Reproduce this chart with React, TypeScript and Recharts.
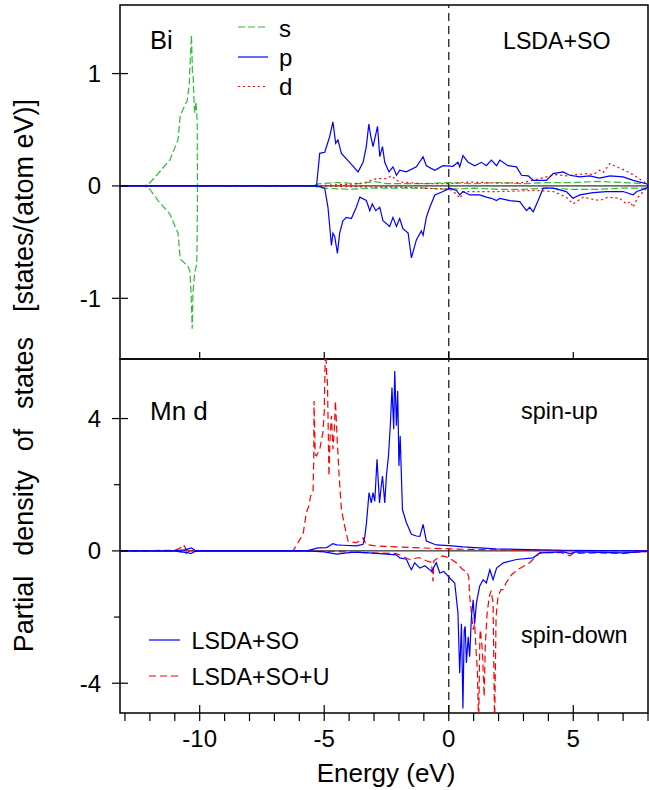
import React from 'react';
import { LineChart, Line, XAxis, YAxis, ReferenceLine, ReferenceArea } from 'recharts';

type Pt = [number, number];

// ---------- axes ----------
const X_DOMAIN: [number, number] = [-13.2, 8];
const TOP_Y_DOMAIN: [number, number] = [-1.54, 1.61];
const BOT_Y_DOMAIN: [number, number] = [-4.9, 5.8];
const X_MAJOR_TICKS = [-10, -5, 0, 5];
const X_ALL_TICKS = [-13, -12, -11, -10, -9, -8, -7, -6, -5, -4, -3, -2, -1, 0, 1, 2, 3, 4, 5, 6, 7, 8];
const TOP_Y_TICKS = [-1, 0, 1];
const BOT_Y_TICKS = [-4, -2, 0, 2, 4];

// ---------- texts ----------
const TOP_TITLE = 'Bi';
const TOP_METHOD = 'LSDA+SO';
const TOP_LEGEND = ['s', 'p', 'd'];
const BOT_TITLE = 'Mn d';
const SPIN_UP = 'spin-up';
const SPIN_DOWN = 'spin-down';
const BOT_LEGEND = ['LSDA+SO', 'LSDA+SO+U'];
const X_LABEL = 'Energy (eV)';
const Y_LABEL_WORDS = ['Partial', 'density', 'of', 'states'];
const Y_LABEL_UNIT = '[states/(atom eV)]';

// ---------- Bi panel (LSDA+SO) ----------
const biSUp: Pt[] = [
  [-13.2, 0], [-12.3, 0], [-12.07, 0.01], [-11.67, 0.11], [-11.2, 0.23], [-10.87, 0.41], [-10.78, 0.63],
  [-10.5, 0.76], [-10.42, 0.9], [-10.38, 1.12], [-10.33, 1.34], [-10.29, 1.0], [-10.26, 0.97], [-10.22, 0.7],
  [-10.19, 0.65], [-10.15, 0.75], [-10.1, 0.57], [-10.09, 0], [-5.5, 0], [-5.2, 0.02], [-4.5, 0.03], [-3.5, 0.02],
  [-3.0, 0.04], [-2.5, 0.02], [-1.0, 0.02], [0, 0.03], [1, 0.02], [2, 0.03], [3, 0.02], [4, 0.03], [5, 0.03],
  [6, 0.04], [7, 0.03], [8, 0.02],
];
const biSDown: Pt[] = [
  [-13.2, 0], [-12.3, 0], [-12.07, -0.01], [-11.67, -0.13], [-11.2, -0.25], [-10.87, -0.42], [-10.78, -0.65],
  [-10.5, -0.71], [-10.4, -0.75], [-10.35, -0.93], [-10.3, -1.27], [-10.27, -0.95], [-10.2, -0.77],
  [-10.12, -0.7], [-10.1, -0.45], [-10.09, 0], [-5.5, 0], [-5.0, -0.02], [-4.0, -0.03], [-3.0, -0.02],
  [-1.0, -0.02], [0, -0.03], [1, -0.02], [2, -0.03], [3, -0.03], [4, -0.02], [5, -0.03], [6, -0.03],
  [7, -0.02], [8, -0.02],
];
const biPUp: Pt[] = [
  [-13.2, 0], [-5.31, 0], [-5.18, 0.29], [-4.98, 0.3], [-4.78, 0.44], [-4.65, 0.57], [-4.54, 0.38],
  [-4.45, 0.41], [-4.31, 0.29], [-3.98, 0.21], [-3.64, 0.125], [-3.44, 0.21], [-3.31, 0.35], [-3.21, 0.55],
  [-3.13, 0.44], [-3.04, 0.35], [-2.86, 0.53], [-2.77, 0.26], [-2.66, 0.35], [-2.57, 0.21], [-2.4, 0.125],
  [-2.24, 0.17], [-2.1, 0.095], [-1.97, 0.14], [-1.7, 0.125], [-1.3, 0.17], [-1.03, 0.26], [-0.9, 0.18],
  [-0.56, 0.14], [-0.23, 0.18], [0.17, 0.175], [0.37, 0.21], [0.44, 0.17], [0.57, 0.27], [0.78, 0.21],
  [1.04, 0.18], [1.31, 0.21], [1.51, 0.18], [1.71, 0.23], [1.92, 0.18], [2.05, 0.23], [2.38, 0.18],
  [2.72, 0.17], [2.92, 0.095], [3.19, 0.09], [3.39, 0.05], [3.92, 0.05], [4.19, 0.11], [4.59, 0.125],
  [4.86, 0.095], [5.26, 0.08], [5.66, 0.09], [6.06, 0.07], [6.47, 0.09], [7.0, 0.08], [7.4, 0.05],
  [7.94, 0.02], [8, 0.01],
];
const biPDown: Pt[] = [
  [-13.2, 0], [-5.31, 0], [-4.98, -0.02], [-4.85, -0.19], [-4.71, -0.53], [-4.65, -0.42], [-4.58, -0.45],
  [-4.47, -0.6], [-4.38, -0.42], [-4.25, -0.31], [-4.11, -0.28], [-3.91, -0.29], [-3.71, -0.19],
  [-3.57, -0.1], [-3.31, -0.13], [-3.17, -0.22], [-3.07, -0.16], [-2.93, -0.22], [-2.77, -0.19],
  [-2.64, -0.31], [-2.37, -0.36], [-2.24, -0.28], [-2.1, -0.36], [-1.97, -0.29], [-1.84, -0.38],
  [-1.63, -0.42], [-1.5, -0.64], [-1.3, -0.48], [-1.1, -0.4], [-1.03, -0.44], [-0.9, -0.28], [-0.76, -0.19],
  [-0.56, -0.08], [-0.23, -0.05], [0.04, -0.02], [0.31, -0.04], [0.44, -0.08], [0.57, -0.05], [0.84, -0.08],
  [1.24, -0.08], [1.51, -0.1], [1.71, -0.11], [1.92, -0.13], [2.05, -0.11], [2.45, -0.13], [2.85, -0.14],
  [3.12, -0.22], [3.25, -0.19], [3.39, -0.23], [3.59, -0.13], [3.79, -0.02], [4.19, -0.02], [4.72, -0.05],
  [4.99, -0.11], [5.26, -0.08], [5.8, -0.06], [6.33, -0.05], [7.0, -0.05], [7.4, -0.08], [7.55, -0.05],
  [7.94, -0.02], [8, -0.01],
];
const biDUp: Pt[] = [
  [-13.2, 0], [-5.3, 0], [-4.5, 0.01], [-3.6, 0.02], [-3.31, 0.035], [-2.9, 0.065], [-2.5, 0.065],
  [-2.3, 0.09], [-2.15, 0.06], [-1.97, 0.035], [-1.0, 0.02], [0, 0.02], [0.8, 0.035], [2, 0.025], [3, 0.03],
  [3.92, 0.08], [4.3, 0.1], [4.72, 0.09], [5.1, 0.1], [5.53, 0.11], [5.8, 0.1], [6.06, 0.14], [6.2, 0.12],
  [6.47, 0.2], [6.73, 0.17], [7.07, 0.14], [7.4, 0.1], [7.94, 0.02], [8, 0.01],
];
const biDDown: Pt[] = [
  [-13.2, 0], [-5.3, 0], [-3, -0.01], [-1.97, -0.01], [0.04, -0.03], [0.3, -0.07], [0.44, -0.11],
  [0.6, -0.05], [2, -0.05], [3.5, -0.04], [4.2, -0.05], [4.72, -0.1], [4.99, -0.16], [5.4, -0.1],
  [5.8, -0.12], [6.06, -0.13], [6.4, -0.1], [6.87, -0.11], [7.13, -0.16], [7.3, -0.14], [7.4, -0.19],
  [7.6, -0.1], [7.94, -0.02], [8, -0.01],
];

// ---------- Mn d panel ----------
const mnSoUp: Pt[] = [
  [-13.2, 0], [-11, 0.01], [-10.6, 0.03], [-10.33, 0.09], [-10.2, 0.02], [-10, 0], [-5.7, 0], [-5.25, 0.09],
  [-4.9, 0.1], [-4.65, 0.22], [-4.5, 0.18], [-4.25, 0.17], [-3.71, 0.15], [-3.44, 0.2], [-3.37, 0.44],
  [-3.31, 0.8], [-3.2, 1.76], [-3.11, 1.45], [-3.04, 1.76], [-2.97, 1.5], [-2.88, 2.77], [-2.78, 1.45],
  [-2.72, 1.9], [-2.66, 2.26], [-2.57, 1.45], [-2.5, 2.3], [-2.42, 2.87], [-2.34, 3.88], [-2.28, 4.94],
  [-2.21, 3.68], [-2.17, 5.44], [-2.1, 3.78], [-2.05, 4.84], [-2.0, 2.57], [-1.95, 3.47], [-1.86, 1.25],
  [-1.7, 0.85], [-1.5, 0.5], [-1.3, 0.45], [-1.16, 0.44], [-1.03, 0.8], [-0.9, 0.3], [-0.5, 0.18],
  [0, 0.16], [0.57, 0.12], [1.9, 0.06], [3.2, 0.04], [4.6, 0.02], [6, 0.01], [8, 0],
];
const mnSoDown: Pt[] = [
  [-13.2, 0], [-11, -0.01], [-10.5, -0.05], [-10.35, -0.08], [-10.2, -0.02], [-10, 0], [-5.7, 0],
  [-5, -0.03], [-4.5, -0.1], [-4, -0.05], [-3.64, -0.04], [-2.77, -0.08], [-2.1, -0.12], [-1.97, -0.21],
  [-1.7, -0.25], [-1.57, -0.47], [-1.5, -0.57], [-1.37, -0.36], [-1.16, -0.52], [-0.96, -0.45],
  [-0.69, -0.62], [-0.5, -0.36], [-0.36, -0.67], [-0.2, -0.62], [0.04, -0.82], [0.24, -0.97], [0.37, -1.88],
  [0.44, -3.7], [0.51, -2.2], [0.57, -4.76], [0.62, -2.4], [0.66, -2.28], [0.71, -3.39], [0.78, -2.6],
  [0.84, -3.2], [0.91, -2.0], [0.98, -1.48], [1.04, -2.2], [1.11, -1.58], [1.24, -1.07], [1.38, -0.87],
  [1.51, -0.97], [1.65, -0.57], [1.78, -0.87], [1.92, -0.52], [2.19, -0.36], [2.72, -0.26], [3.39, -0.21],
  [3.66, -0.06], [4.6, -0.03], [4.87, -0.08], [5.1, -0.03], [7.0, -0.06], [7.7, -0.03], [8, -0.01],
];
const mnSoUUp: Pt[] = [
  [-13.2, 0], [-11, 0.02], [-10.8, 0.08], [-10.65, 0.19], [-10.55, 0.05], [-10.4, 0], [-6.25, 0],
  [-5.98, 0.34], [-5.85, 0.5], [-5.72, 1.15], [-5.6, 1.4], [-5.55, 1.66], [-5.45, 1.76], [-5.42, 2.8],
  [-5.41, 4.53], [-5.36, 2.9], [-5.31, 2.87], [-5.18, 3.07], [-5.1, 3.4], [-5.05, 3.58], [-5.0, 4.2],
  [-4.95, 6.3], [-4.9, 5.3], [-4.87, 5.09], [-4.81, 2.26], [-4.76, 3.5], [-4.71, 4.08], [-4.65, 3.07],
  [-4.6, 3.6], [-4.55, 4.53], [-4.48, 3.37], [-4.4, 2.26], [-4.31, 1.25], [-4.18, 0.75], [-4.04, 0.29],
  [-3.71, 0.24], [-3.44, 0.39], [-3.31, 0.19], [-2.9, 0.15], [-2.1, 0.12], [-0.76, 0.08], [0.57, 0.05],
  [2, 0.03], [3.2, 0.02], [5, 0.01], [8, 0.01],
];
const mnSoUDown: Pt[] = [
  [-13.2, 0], [-11, 0], [-10.7, -0.03], [-10.55, -0.08], [-10.4, 0], [-6.25, 0], [-4.5, -0.02],
  [-3.5, -0.05], [-2.1, -0.08], [-1.57, -0.26], [-1.2, -0.2], [-0.9, -0.3], [-0.7, -0.35], [-0.63, -0.92],
  [-0.6, -0.3], [-0.4, -0.2], [-0.25, -0.15], [-0.1, -0.18], [0.1, -0.25], [0.3, -0.36], [0.57, -0.57],
  [0.71, -0.62], [0.8, -0.77], [0.84, -1.37], [0.91, -1.88], [0.98, -2.38], [1.04, -2.2], [1.11, -3.19],
  [1.15, -3.6], [1.2, -5.3], [1.25, -2.6], [1.27, -2.38], [1.35, -3.0], [1.42, -4.4], [1.47, -2.8],
  [1.54, -1.88], [1.63, -1.37], [1.7, -1.2], [1.78, -1.58], [1.84, -5.3], [1.9, -2.0], [1.98, -1.37],
  [2.1, -1.17], [2.18, -1.17], [2.3, -0.97], [2.52, -0.72], [2.8, -0.55], [3.13, -0.41], [3.25, -0.36],
  [3.65, -0.06], [4.5, -0.05], [4.86, -0.15], [5.0, -0.08], [6, -0.06], [7, -0.08], [7.5, -0.04], [8, -0.02],
];

const toData = (pts: Pt[]) => pts.map(([e, v]) => ({ e, v }));

// ---------- styles ----------
const FONT = '"Liberation Sans", Arial, Helvetica, sans-serif';
const AX = '#000';
const GREEN = '#33bb33';
const BLUE = '#0000ff';
const RED = '#ff0000';
const LW = 1.2;

function TopPanelXTick(props: any) {
  const { x, y } = props;
  return <line x1={x} x2={x} y1={y} y2={y - 7} stroke={AX} strokeWidth={1.2} />;
}
function BotPanelTopTick(props: any) {
  const { x, y } = props;
  return <line x1={x} x2={x} y1={y} y2={y + 8} stroke={AX} strokeWidth={1.2} />;
}
function BotPanelXTick(props: any) {
  const { x, y, payload } = props;
  const major = payload.value % 5 === 0;
  return (
    <g>
      <line x1={x} x2={x} y1={y} y2={y + 8} stroke={AX} strokeWidth={1.2} />
      {major && <line x1={x} x2={x} y1={y} y2={y - 8} stroke={AX} strokeWidth={1.2} />}
      {major && (
        <text x={x} y={y + 34} textAnchor="middle" fontSize={24} fontFamily={FONT} fill="#000">
          {String(payload.value)}
        </text>
      )}
    </g>
  );
}
function makeYTick(majorEvery: number) {
  return function YTick(props: any) {
    const { x, y, payload } = props;
    const major = payload.value % majorEvery === 0;
    if (!major) return <line x1={x - 6} x2={x} y1={y} y2={y} stroke={AX} strokeWidth={1.2} />;
    return (
      <g>
        <line x1={x - 8} x2={x + 8} y1={y} y2={y} stroke={AX} strokeWidth={1.2} />
        <text x={x - 19} y={y + 8.5} textAnchor="end" fontSize={24} fontFamily={FONT} fill="#000">
          {String(payload.value)}
        </text>
      </g>
    );
  };
}
const TopYTick = makeYTick(1);
const BotYTick = makeYTick(4);

export default function App() {
  const W = 649;
  return (
    <div style={{ position: 'absolute', left: 0, top: 0, width: W, height: 790, background: '#fff' }}>
      {/* top panel */}
      <div style={{ position: 'absolute', left: 0, top: 0 }}>
        <LineChart width={W} height={360} margin={{ top: 5, right: 1, bottom: 0, left: 119 }}>
          <XAxis dataKey="e" type="number" domain={X_DOMAIN} ticks={X_MAJOR_TICKS} interval={0} height={1}
            tickSize={0} tickMargin={0} axisLine={false} tickLine={false} tick={TopPanelXTick} allowDataOverflow />
          <YAxis type="number" domain={TOP_Y_DOMAIN} ticks={TOP_Y_TICKS} interval={0} width={1}
            tickSize={0} tickMargin={0} axisLine={false} tickLine={false} tick={TopYTick} allowDataOverflow />
          <ReferenceLine y={0} stroke={AX} strokeWidth={1} />
          <ReferenceLine x={0} stroke="#222" strokeWidth={1.3} strokeDasharray="8 5" />
          <Line data={toData(biSUp)} dataKey="v" stroke={GREEN} strokeWidth={LW} strokeDasharray="7 3" dot={false} isAnimationActive={false} />
          <Line data={toData(biSDown)} dataKey="v" stroke={GREEN} strokeWidth={LW} strokeDasharray="7 3" dot={false} isAnimationActive={false} />
          <Line data={toData(biDUp)} dataKey="v" stroke={RED} strokeWidth={LW} strokeDasharray="2 3" dot={false} isAnimationActive={false} />
          <Line data={toData(biDDown)} dataKey="v" stroke={RED} strokeWidth={LW} strokeDasharray="2 3" dot={false} isAnimationActive={false} />
          <Line data={toData(biPUp)} dataKey="v" stroke={BLUE} strokeWidth={LW} dot={false} isAnimationActive={false} />
          <Line data={toData(biPDown)} dataKey="v" stroke={BLUE} strokeWidth={LW} dot={false} isAnimationActive={false} />
          <ReferenceArea x1={X_DOMAIN[0]} x2={X_DOMAIN[1]} y1={TOP_Y_DOMAIN[0]} y2={TOP_Y_DOMAIN[1]}
            fill="none" fillOpacity={0} stroke={AX} strokeWidth={1.5} ifOverflow="visible" />
        </LineChart>
      </div>
      {/* bottom panel */}
      <div style={{ position: 'absolute', left: 0, top: 0 }}>
        <LineChart width={W} height={790} margin={{ top: 358, right: 1, bottom: 76, left: 119 }}>
          <XAxis dataKey="e" type="number" domain={X_DOMAIN} ticks={X_ALL_TICKS} interval={0} height={1}
            tickSize={0} tickMargin={0} axisLine={false} tickLine={false} tick={BotPanelXTick} allowDataOverflow />
          <XAxis xAxisId="top" orientation="top" type="number" domain={X_DOMAIN} ticks={X_ALL_TICKS} interval={0}
            height={1} tickSize={0} tickMargin={0} axisLine={false} tickLine={false} tick={BotPanelTopTick} allowDataOverflow />
          <YAxis type="number" domain={BOT_Y_DOMAIN} ticks={BOT_Y_TICKS} interval={0} width={1}
            tickSize={0} tickMargin={0} axisLine={false} tickLine={false} tick={BotYTick} allowDataOverflow />
          <ReferenceLine y={0} stroke={AX} strokeWidth={1} />
          <ReferenceLine x={0} stroke="#222" strokeWidth={1.3} strokeDasharray="8 5" />
          <Line data={toData(mnSoUUp)} dataKey="v" stroke={RED} strokeWidth={LW} strokeDasharray="7 4" dot={false} isAnimationActive={false} />
          <Line data={toData(mnSoUDown)} dataKey="v" stroke={RED} strokeWidth={LW} strokeDasharray="7 4" dot={false} isAnimationActive={false} />
          <Line data={toData(mnSoUp)} dataKey="v" stroke={BLUE} strokeWidth={LW} dot={false} isAnimationActive={false} />
          <Line data={toData(mnSoDown)} dataKey="v" stroke={BLUE} strokeWidth={LW} dot={false} isAnimationActive={false} />
          <ReferenceArea x1={X_DOMAIN[0]} x2={X_DOMAIN[1]} y1={BOT_Y_DOMAIN[0]} y2={BOT_Y_DOMAIN[1]}
            fill="none" fillOpacity={0} stroke={AX} strokeWidth={1.5} ifOverflow="visible" />
        </LineChart>
      </div>
      {/* annotations, legends and axis titles */}
      <svg width={W} height={790} style={{ position: 'absolute', left: 0, top: 0, pointerEvents: 'none' }}
        fontFamily={FONT} fill="#000">
        <text x={150} y={48.5} fontSize={25.5}>{TOP_TITLE}</text>
        <text x={503} y={48.5} fontSize={23.2}>{TOP_METHOD}</text>
        <line x1={238} x2={268} y1={27} y2={27} stroke={GREEN} strokeWidth={LW} strokeDasharray="7 3" />
        <line x1={238} x2={268} y1={57} y2={57} stroke={BLUE} strokeWidth={LW} />
        <line x1={238} x2={268} y1={86.5} y2={86.5} stroke={RED} strokeWidth={LW} strokeDasharray="2 3" />
        <text x={279} y={36.5} fontSize={24}>{TOP_LEGEND[0]}</text>
        <text x={279} y={65.5} fontSize={24}>{TOP_LEGEND[1]}</text>
        <text x={279} y={94.5} fontSize={24}>{TOP_LEGEND[2]}</text>

        <text x={150} y={419.5} fontSize={26}>{BOT_TITLE}</text>
        <text x={521} y={418.5} fontSize={23.4}>{SPIN_UP}</text>
        <text x={521} y={642.5} fontSize={23.4}>{SPIN_DOWN}</text>
        <line x1={149} x2={180} y1={640} y2={640} stroke={BLUE} strokeWidth={LW} />
        <line x1={149} x2={180} y1={676} y2={676} stroke={RED} strokeWidth={LW} strokeDasharray="7 4" />
        <text x={191.5} y={649.3} fontSize={23.2}>{BOT_LEGEND[0]}</text>
        <text x={191.5} y={684.5} fontSize={23.2}>{BOT_LEGEND[1]}</text>

        <text x={386} y={782} fontSize={26} textAnchor="middle">{X_LABEL}</text>

        <text x={33} y={614} fontSize={27} textAnchor="middle" transform="rotate(-90 33 614)">{Y_LABEL_WORDS[0]}</text>
        <text x={33} y={513} fontSize={27} textAnchor="middle" transform="rotate(-90 33 513)">{Y_LABEL_WORDS[1]}</text>
        <text x={33} y={440} fontSize={27} textAnchor="middle" transform="rotate(-90 33 440)">{Y_LABEL_WORDS[2]}</text>
        <text x={33} y={373} fontSize={27} textAnchor="middle" transform="rotate(-90 33 373)">{Y_LABEL_WORDS[3]}</text>
        <text x={33} y={205.5} fontSize={27} textAnchor="middle" transform="rotate(-90 33 205.5)">{Y_LABEL_UNIT}</text>
      </svg>
    </div>
  );
}
